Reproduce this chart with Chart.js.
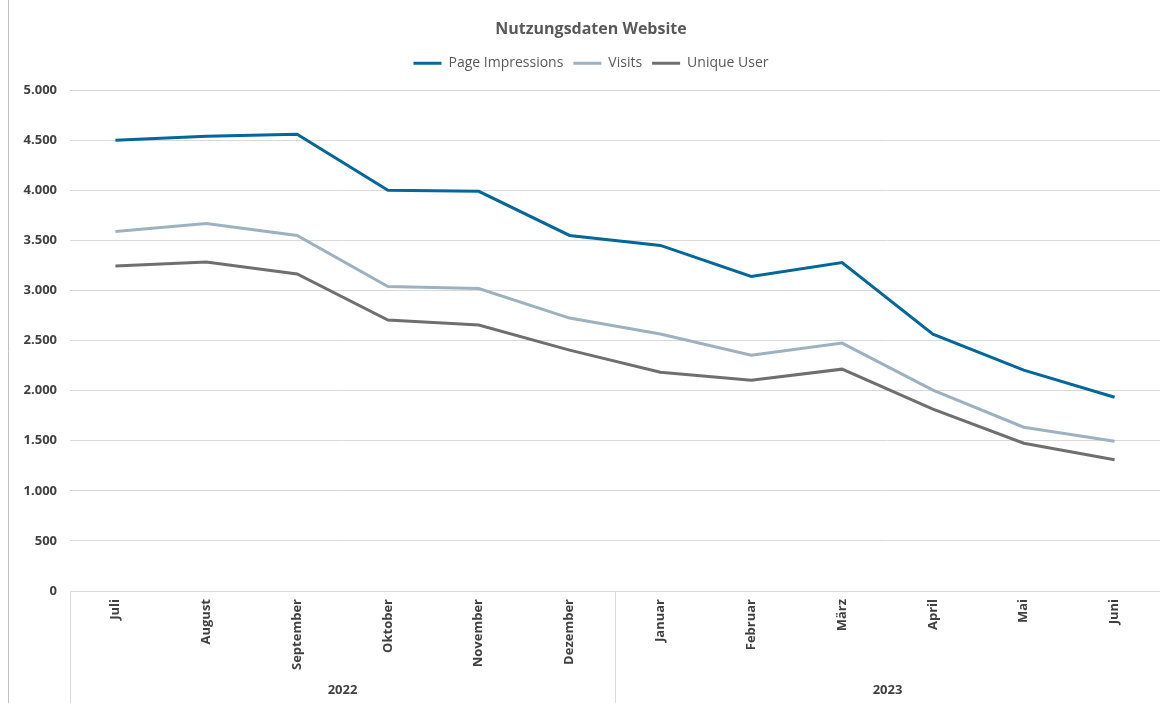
<!DOCTYPE html>
<html><head><meta charset="utf-8">
<script src="https://cdn.jsdelivr.net/npm/chart.js@4.4.0/dist/chart.umd.min.js"></script>
<style>html,body{margin:0;padding:0;background:#fff}#wrap{position:relative;width:1160px;height:703px}</style>
</head><body><div id="wrap"><canvas id="c" width="1160" height="703"></canvas></div>
<script>
const categories = ['Juli','August','September','Oktober','November','Dezember','Januar','Februar','März','April','Mai','Juni'];
const years = ['2022','2023'];
const yearGroups = [[0,5],[6,11]];
const pageImpressions = [4500,4540,4560,4000,3990,3550,3450,3140,3280,2565,2205,1935];
const visits = [3590,3670,3550,3040,3020,2725,2565,2355,2475,2005,1635,1495];
const uniqueUser = [3245,3285,3165,2705,2655,2405,2185,2105,2215,1815,1475,1310];
const yTicks = [0,500,1000,1500,2000,2500,3000,3500,4000,4500,5000];

const FONT = "'Open Sans', sans-serif";
const legendSpace = {
  id:'legendSpace',
  beforeInit(chart){
    const lg = chart.legend;
    if(!lg) return;
    const orig = lg.fit;
    lg.fit = function(){ orig.call(this); this.height += 10; };
  }
};
const groupPlugin = {
  id:'groups',
  afterDraw(chart){
    const ctx = chart.ctx, x = chart.scales.x, area = chart.chartArea;
    ctx.save();
    ctx.strokeStyle = '#d9d9d9'; ctx.lineWidth = 1;
    const half = (x.getPixelForValue(1)-x.getPixelForValue(0))/2;
    const bottom = chart.height;
    ctx.beginPath();
    ctx.moveTo(area.left, area.bottom+0.5); ctx.lineTo(area.right, area.bottom+0.5);
    yearGroups.forEach(g=>{
      const l = Math.round(x.getPixelForValue(g[0])-half)+0.5;
      ctx.moveTo(l, area.bottom); ctx.lineTo(l, bottom);
    });
    ctx.stroke();
    ctx.fillStyle = '#404040';
    ctx.font = "bold 13px " + FONT;
    ctx.textAlign = 'center'; ctx.textBaseline = 'middle';
    yearGroups.forEach((g,i)=>{
      const c = (x.getPixelForValue(g[0])+x.getPixelForValue(g[1]))/2;
      ctx.fillText(years[i], c, 690);
    });
    ctx.strokeStyle = '#bfbfbf';
    ctx.beginPath(); ctx.moveTo(8.5,0); ctx.lineTo(8.5,bottom); ctx.stroke();
    ctx.restore();
  }
};

new Chart(document.getElementById('c'), {
  type:'line',
  data:{labels:categories, datasets:[
    {label:'Page Impressions', data:pageImpressions, borderColor:'#00679a', backgroundColor:'#00679a', borderWidth:3, pointRadius:0, tension:0},
    {label:'Visits', data:visits, borderColor:'#9eb1bf', backgroundColor:'#9eb1bf', borderWidth:3, pointRadius:0, tension:0},
    {label:'Unique User', data:uniqueUser, borderColor:'#6f6f6f', backgroundColor:'#6f6f6f', borderWidth:3, pointRadius:0, tension:0}
  ]},
  options:{
    responsive:false, animation:false, devicePixelRatio:1,
    layout:{padding:{left:22,right:0,top:0,bottom:0}},
    plugins:{
      title:{display:true, text:'Nutzungsdaten Website', color:'#595959', font:{family:FONT, size:16, weight:'bold'}, padding:{top:20,bottom:7}},
      legend:{display:true, labels:{usePointStyle:true, pointStyle:'line', pointStyleWidth:28, boxWidth:28, color:'#595959', font:{family:FONT, size:14}, padding:10}},
      tooltip:{enabled:false}
    },
    scales:{
      x:{offset:true, grid:{display:false, drawTicks:false}, border:{display:false},
        ticks:{color:'#404040', font:{family:FONT, size:13, weight:'bold'}, minRotation:90, maxRotation:90, padding:8, autoSkip:false},
        afterFit(s){ s.height = 112; }},
      y:{min:0, max:5000, grid:{color:'#d9d9d9', drawTicks:false}, border:{display:false},
        afterBuildTicks(s){ s.ticks = yTicks.map(v=>({value:v})); },
        ticks:{color:'#404040', font:{family:FONT, size:13, weight:'bold'}, padding:13, callback:v=>v.toLocaleString('de-DE')},
        afterFit(s){ s.width = 48; }}
    }
  },
  plugins:[legendSpace, groupPlugin]
});
</script></body></html>
